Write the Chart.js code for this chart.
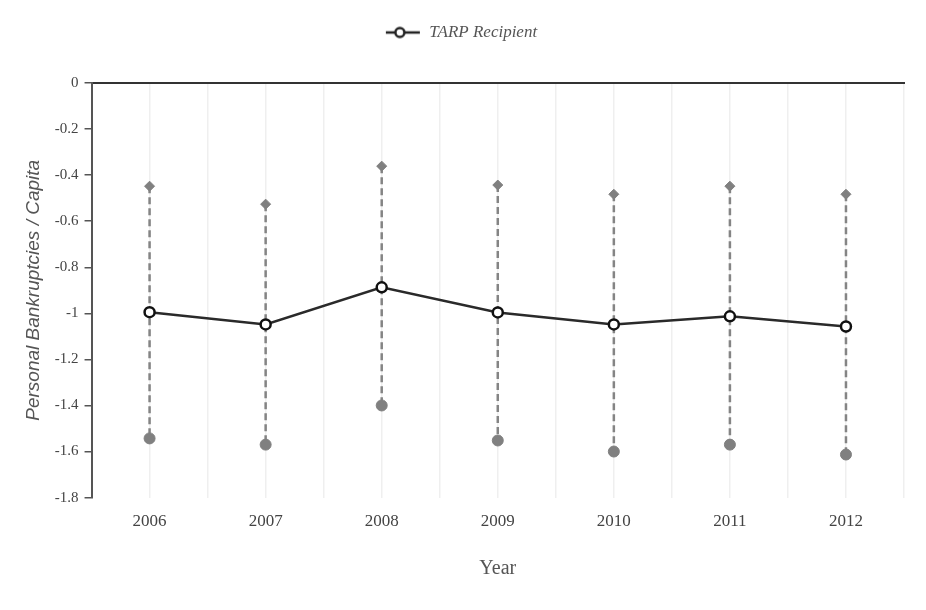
<!DOCTYPE html>
<html>
<head>
<meta charset="utf-8">
<script src="https://cdn.jsdelivr.net/npm/chart.js@4/dist/chart.umd.min.js"></script>
<style>
  body { margin: 0; background: #fff; }
  #wrap { width: 926px; height: 610px; }
</style>
</head>
<body>
<div id="wrap"><canvas id="chart"></canvas></div>
<script>
const years = [2006, 2007, 2008, 2009, 2010, 2011, 2012];
const meanValues = [-0.995, -1.048, -0.887, -0.996, -1.048, -1.013, -1.057];
const upperValues = [-0.448, -0.526, -0.361, -0.443, -0.483, -0.448, -0.483];
const lowerValues = [-1.543, -1.570, -1.400, -1.552, -1.600, -1.570, -1.613];

const serif = "'Liberation Serif', 'Times New Roman', serif";
const sans = "'Liberation Sans', Arial, sans-serif";

// legend marker: line with an open circle
const legendIcon = document.createElement("canvas");
legendIcon.width = 36;
legendIcon.height = 14;
(function () {
  const c = legendIcon.getContext("2d");
  c.strokeStyle = "#222";
  c.lineWidth = 2.5;
  c.beginPath();
  c.moveTo(1, 7);
  c.lineTo(35, 7);
  c.stroke();
  c.fillStyle = "#fff";
  c.beginPath();
  c.arc(15, 7, 4.5, 0, Math.PI * 2);
  c.fill();
  c.stroke();
})();

// extra room under the legend
const legendMargin = {
  id: "legendMargin",
  beforeInit(chart) {
    const fit = chart.legend.fit;
    chart.legend.fit = function () {
      fit.bind(chart.legend)();
      this.height += 32;
    };
  },
};

// dashed connectors between upper and lower points
const errorBars = {
  id: "errorBars",
  beforeDatasetsDraw(chart) {
    const up = chart.getDatasetMeta(1).data;
    const lo = chart.getDatasetMeta(2).data;
    const ctx = chart.ctx;
    ctx.save();
    ctx.strokeStyle = "#848484";
    ctx.lineWidth = 2.5;
    ctx.setLineDash([7, 4]);
    up.forEach((p, i) => {
      ctx.beginPath();
      ctx.moveTo(p.x, p.y);
      ctx.lineTo(lo[i].x, lo[i].y);
      ctx.stroke();
    });
    ctx.restore();
  },
};

const toPts = (vals) => vals.map((v, i) => ({ x: years[i], y: v }));

new Chart(document.getElementById("chart"), {
  type: "line",
  data: {
    datasets: [
      {
        label: "TARP Recipient",
        data: toPts(meanValues),
        borderColor: "#2a2a2a",
        borderWidth: 2.5,
        pointRadius: 5,
        pointBorderWidth: 2.5,
        pointBackgroundColor: "#fff",
        pointBorderColor: "#111",
        tension: 0,
        order: 0,
      },
      {
        label: "upper",
        data: toPts(upperValues),
        showLine: false,
        pointStyle: "rectRot",
        pointRadius: 5,
        pointBackgroundColor: "#808080",
        pointBorderColor: "#808080",
        pointBorderWidth: 1,
        order: 1,
      },
      {
        label: "lower",
        data: toPts(lowerValues),
        showLine: false,
        pointStyle: "circle",
        pointRadius: 5.5,
        pointBackgroundColor: "#808080",
        pointBorderColor: "#808080",
        pointBorderWidth: 1,
        order: 1,
      },
    ],
  },
  options: {
    responsive: true,
    maintainAspectRatio: false,
    animation: false,
    layout: { padding: { left: 18, right: 22, top: 14, bottom: 25 } },
    plugins: {
      tooltip: { enabled: false },
      legend: {
        position: "top",
        labels: {
          usePointStyle: true,
          pointStyleWidth: 36,
          color: "#555",
          padding: 10,
          font: { family: serif, size: 17, style: "italic" },
          generateLabels: () => [
            {
              text: "TARP Recipient",
              pointStyle: legendIcon,
              datasetIndex: 0,
              fontColor: "#555",
              lineWidth: 0,
              strokeStyle: "transparent",
              fillStyle: "transparent",
            },
          ],
        },
      },
    },
    scales: {
      x: {
        type: "linear",
        min: 2005.5,
        max: 2012.5,
        ticks: {
          stepSize: 0.5,
          autoSkip: false,
          color: "#444",
          font: { family: serif, size: 17 },
          padding: 14,
          callback: (v) => (Number.isInteger(v) ? String(v) : ""),
        },
        grid: {
          color: "#efefef",
          lineWidth: 1.5,
          drawTicks: false,
        },
        border: { display: false },
        title: {
          display: true,
          text: "Year",
          color: "#555",
          font: { family: serif, size: 20 },
          padding: { top: 11 },
        },
      },
      x2: {
        type: "linear",
        position: "top",
        min: 2005.5,
        max: 2012.5,
        ticks: { display: false },
        grid: { display: false, drawTicks: false },
        border: { display: true, color: "#333", width: 2 },
      },
      y: {
        min: -1.8,
        max: 0,
        ticks: {
          stepSize: 0.2,
          color: "#444",
          font: { family: serif, size: 15 },
          padding: 6,
          callback: (v) => String(parseFloat(v.toFixed(1))),
        },
        grid: {
          drawOnChartArea: false,
          drawTicks: true,
          tickLength: 7,
          color: "#555",
          lineWidth: 1.5,
        },
        border: { display: true, color: "#555", width: 2 },
        title: {
          display: true,
          text: "Personal Bankruptcies / Capita",
          color: "#555",
          font: { family: sans, size: 19, style: "italic" },
          padding: { bottom: 4 },
        },
      },
    },
  },
  plugins: [errorBars, legendMargin],
});
</script>
</body>
</html>
